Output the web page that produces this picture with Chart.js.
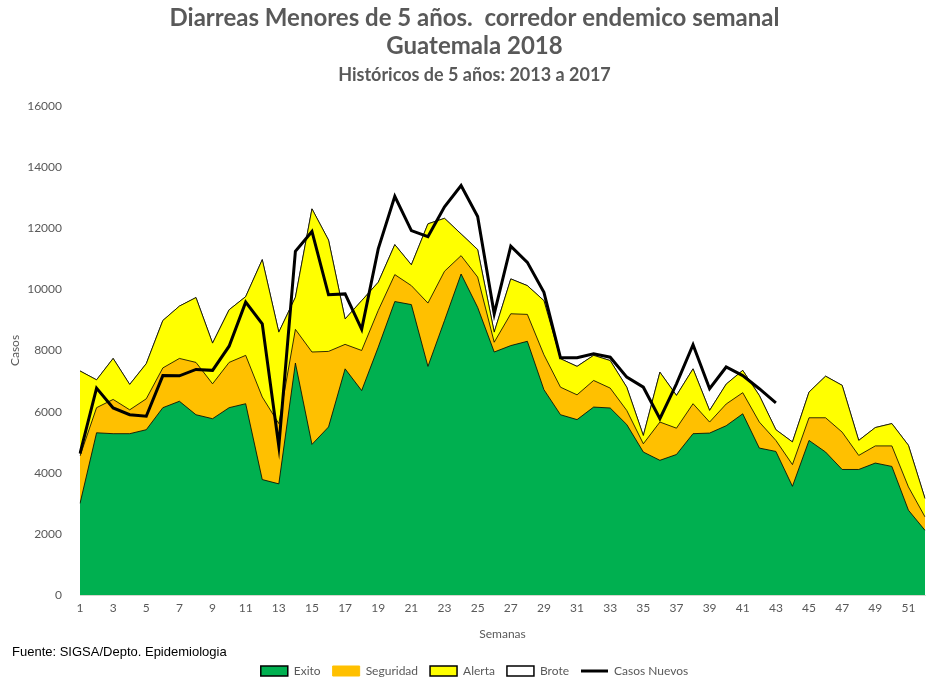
<!DOCTYPE html>
<html>
<head>
<meta charset="utf-8">
<script src="https://cdn.jsdelivr.net/npm/chart.js@4.4.1/dist/chart.umd.min.js"></script>
<style>
  html, body { margin: 0; padding: 0; background: #ffffff; }
  #wrap { position: relative; width: 931px; height: 678px; }
  #fuente { position: absolute; left: 12px; top: 644px; font-family: "Liberation Sans", Arial, sans-serif; font-size: 13px; color: #000; }
</style>
</head>
<body>
<div id="wrap">
  <canvas id="c" width="931" height="678"></canvas>
  <div id="fuente">Fuente: SIGSA/Depto. Epidemiologia</div>
</div>
<script>
const weeks = Array.from({length: 52}, (_, i) => String(i + 1));

const exito = [3000, 5310, 5280, 5280, 5410, 6130, 6340, 5900, 5770, 6130, 6260, 3780, 3640,
  7590, 4930, 5500, 7400, 6690, 8110, 9600, 9500, 7480, 8980, 10500, 9410, 7950,
  8160, 8300, 6720, 5900, 5740, 6150, 6120, 5580, 4680, 4410, 4600, 5280, 5300, 5540,
  5930, 4810, 4700, 3560, 5060, 4680, 4110, 4110, 4320, 4210, 2780, 2120];

const seguridad = [4550, 6130, 6400, 6060, 6420, 7430, 7740, 7610, 6910, 7610, 7840, 6480, 5610,
  8690, 7950, 7970, 8200, 8000, 9310, 10480, 10120, 9550, 10590, 11100, 10400, 8270,
  9200, 9180, 7860, 6800, 6550, 7020, 6770, 6040, 4950, 5660, 5460, 6260, 5660, 6250,
  6620, 5660, 5060, 4270, 5800, 5800, 5330, 4570, 4880, 4880, 3540, 2560];

const alerta = [7330, 7040, 7740, 6890, 7570, 8980, 9450, 9730, 8240, 9330, 9760, 10970, 8600,
  9740, 12630, 11610, 9030, 9630, 10230, 11460, 10800, 12140, 12320, 11810, 11300, 8600,
  10340, 10120, 9630, 7730, 7480, 7840, 7670, 6800, 5220, 7290, 6530, 7400, 6040, 6900,
  7350, 6530, 5410, 5010, 6640, 7160, 6860, 5060, 5480, 5610, 4900, 3160];

const brote = [7330, 7040, 7740, 6890, 7570, 8980, 9450, 9730, 8240, 9330, 9760, 10970, 8600,
  9740, 12630, 11610, 9030, 9630, 10230, 11460, 10800, 12140, 12320, 11810, 11300, 8600,
  10340, 10120, 9630, 7730, 7480, 7840, 7670, 6800, 5220, 7290, 6530, 7400, 6040, 6900,
  7350, 6530, 5410, 5010, 6640, 7160, 6860, 5060, 5480, 5610, 4900, 3160];

const casosNuevos = [4630, 6770, 6120, 5900, 5850, 7180, 7170, 7380, 7350, 8140, 9580, 8870, 4870,
  11240, 11890, 9820, 9850, 8690, 11320, 13040, 11920, 11720, 12700, 13390, 12380, 9200,
  11410, 10880, 9900, 7760, 7760, 7890, 7780, 7130, 6800, 5770, 6910, 8190, 6750, 7460,
  7180, 6750, 6290];

const yTicks = [0, 2000, 4000, 6000, 8000, 10000, 12000, 14000, 16000];

const GRAY = '#595959';
const FONT = 'Lato, "Open Sans", sans-serif';
const EDGE = 'rgba(0,0,0,0.8)';

const areaBase = { fill: 'origin', pointRadius: 0, pointHoverRadius: 0, borderWidth: 1, tension: 0, borderColor: EDGE, pointStyle: 'rect' };

new Chart(document.getElementById('c'), {
  type: 'line',
  data: {
    labels: weeks,
    datasets: [
      Object.assign({}, areaBase, { label: 'Exito', data: exito, backgroundColor: '#00B050', order: 1 }),
      Object.assign({}, areaBase, { label: 'Seguridad', data: seguridad, backgroundColor: '#FFC000', order: 2 }),
      Object.assign({}, areaBase, { label: 'Alerta', data: alerta, backgroundColor: '#FFFF00', order: 3 }),
      Object.assign({}, areaBase, { label: 'Brote', data: brote, backgroundColor: '#FFFFFF', order: 4 }),
      { label: 'Casos Nuevos', data: casosNuevos, borderColor: '#000000', backgroundColor: '#000000', borderWidth: 3,
        fill: false, pointRadius: 0, pointHoverRadius: 0, tension: 0, order: 0, pointStyle: 'line' }
    ]
  },
  options: {
    responsive: false,
    devicePixelRatio: 1,
    animation: false,
    layout: { padding: { left: 20, right: 2, top: 4, bottom: -9 } },
    plugins: {
      title: {
        display: true,
        text: ['Diarreas Menores de 5 años.  corredor endemico semanal', 'Guatemala 2018'],
        color: GRAY,
        font: { family: FONT, size: 24, weight: 'bold', lineHeight: 1.17 },
        padding: { top: 0, bottom: 4 }
      },
      subtitle: {
        display: true,
        text: 'Históricos de 5 años: 2013 a 2017',
        color: GRAY,
        font: { family: FONT, size: 18, weight: 'bold', lineHeight: 1.2 },
        padding: { top: 0, bottom: 20 }
      },
      legend: {
        position: 'bottom',
        labels: {
          usePointStyle: true,
          pointStyleWidth: 27,
          boxHeight: 10,
          padding: 12,
          color: GRAY,
          font: { family: FONT, size: 12 },
          sort: (a, b) => a.datasetIndex - b.datasetIndex,
          generateLabels: (chart) => {
            const items = Chart.defaults.plugins.legend.labels.generateLabels(chart);
            items.forEach(it => {
              if (it.text === 'Seguridad') { it.strokeStyle = '#FFC000'; }
              if (it.text === 'Casos Nuevos') { it.lineWidth = 3; it.pointStyle = 'line'; }
              else { it.pointStyle = 'rect'; if (it.text !== 'Seguridad') { it.lineWidth = 1.5; it.strokeStyle = '#000'; } }
            });
            return items;
          }
        }
      },
      tooltip: { enabled: false }
    },
    scales: {
      x: {
        offset: false,
        grid: { display: false, drawTicks: false },
        border: { display: true, color: '#d9d9d9', width: 1 },
        ticks: {
          autoSkip: false, maxRotation: 0, minRotation: 0, padding: 6,
          color: GRAY, font: { family: FONT, size: 12 },
          callback: function (v, i) { return i % 2 === 0 ? weeks[i] : ''; }
        },
        title: { display: true, text: 'Semanas', color: GRAY, font: { family: FONT, size: 12 }, padding: { top: 5, bottom: 12 } }
      },
      y: {
        min: 0, max: 16000,
        afterBuildTicks: (s) => { s.ticks = yTicks.map(v => ({ value: v })); },
        afterFit: (s) => { s.width = 60; },
        grid: { display: false, drawTicks: false },
        border: { display: false },
        ticks: { color: GRAY, font: { family: FONT, size: 12 }, padding: 18, callback: (v) => String(v) },
        title: { display: true, text: 'Casos', color: GRAY, font: { family: FONT, size: 12 }, padding: { top: -12, bottom: 0 } }
      }
    }
  }
});
</script>
</body>
</html>
